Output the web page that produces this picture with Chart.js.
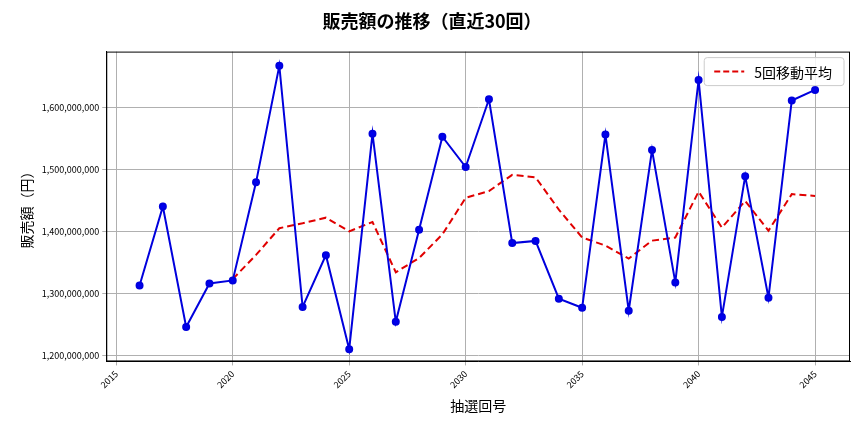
<!DOCTYPE html>
<html><head><meta charset="utf-8">
<script src="https://cdn.jsdelivr.net/npm/chart.js@4/dist/chart.umd.min.js"></script>
<style>body{margin:0;background:#fff}</style>
</head><body>
<canvas id="c" width="864" height="432"></canvas>
<script>
const rounds = [2016,2017,2018,2019,2020,2021,2022,2023,2024,2025,2026,2027,2028,2029,2030,2031,2032,2033,2034,2035,2036,2037,2038,2039,2040,2041,2042,2043,2044,2045];
const sales = [1312.6,1440,1245.7,1316,1320.8,1479,1667,1278,1361.6,1210,1557.5,1254,1402.5,1552.6,1503.7,1613,1381,1384.5,1291.4,1276.7,1556,1272,1531,1317.6,1644,1262,1489,1293,1611,1628];
const maRounds = rounds.slice(4);
const movingAvg = [1323,1362,1405,1413,1422,1400,1415,1334,1357,1395,1454,1465,1491,1487,1435,1390,1377,1356,1385,1390,1464,1406,1449,1401,1460,1457];
const legendText = '5回移動平均';
const M = 1e6;
const font = "'Noto Sans CJK JP', 'DejaVu Sans', sans-serif";
Chart.defaults.font.family = font;
Chart.defaults.color = '#000';
const frameLegend = {
  id:'frameLegend',
  afterDatasetsDraw(ch){
    const {ctx, chartArea:a} = ch;
    ctx.save();
    ctx.strokeStyle='#000'; ctx.lineWidth=1;
    ctx.strokeRect(a.left+0.5,a.top+0.5,a.right-a.left-1,a.bottom-a.top-1);
    ctx.font = "14px "+font;
    const tw = ctx.measureText(legendText).width;
    const w = tw+62, h=28, x=a.right-6-w, y=a.top+6;
    ctx.fillStyle='rgba(255,255,255,0.85)'; ctx.strokeStyle='#ccc';
    ctx.beginPath(); ctx.roundRect(x,y,w,h,3); ctx.fill(); ctx.stroke();
    ctx.strokeStyle='#e00000'; ctx.lineWidth=2; ctx.setLineDash([6,3]);
    ctx.beginPath(); ctx.moveTo(x+10,y+h/2); ctx.lineTo(x+40,y+h/2); ctx.stroke();
    ctx.setLineDash([]); ctx.fillStyle='#000'; ctx.textBaseline='middle';
    ctx.fillText(legendText,x+50,y+h/2+1);
    ctx.restore();
  }
};
new Chart(document.getElementById('c'), {
  type: 'line',
  data: { datasets: [
    { label: '販売額', data: rounds.map((r,i)=>({x:r,y:sales[i]*M})), borderColor:'#0000dd', backgroundColor:'#0000ee', borderWidth:2, pointRadius:3, pointHoverRadius:3, tension:0 },
    { label: legendText, data: maRounds.map((r,i)=>({x:r,y:movingAvg[i]*M})), borderColor:'#e00000', borderDash:[7,4], borderWidth:2, pointRadius:0, tension:0 }
  ]},
  options: {
    responsive:false, animation:false,
    layout:{padding:{left:14,right:14,top:0,bottom:14}},
    plugins:{
      title:{display:true,text:'販売額の推移（直近30回）',font:{size:18,weight:'bold'},padding:{top:10,bottom:20}},
      legend:{display:false},
      tooltip:{enabled:false}
    },
    scales:{
      x:{type:'linear',min:2014.57,max:2046.5,
        ticks:{minRotation:45,maxRotation:45,font:{size:9},callback:v=>String(v)},
        afterBuildTicks:a=>{a.ticks=[2015,2020,2025,2030,2035,2040,2045].map(v=>({value:v}));},
        grid:{color:'#b0b0b0',tickLength:4},border:{color:'#000'},
        title:{display:true,text:'抽選回号',font:{size:14}}},
      y:{min:1190.2*M,max:1689.8*M,
        afterBuildTicks:a=>{a.ticks=[1200,1300,1400,1500,1600].map(v=>({value:v*M}));},
        ticks:{font:{size:9},callback:v=>v.toLocaleString('en-US')},
        grid:{color:'#b0b0b0',tickLength:4},border:{color:'#000'},
        title:{display:true,text:'販売額（円）',font:{size:14}}}
    }
  },
  plugins:[frameLegend]
});
</script>
</body></html>
